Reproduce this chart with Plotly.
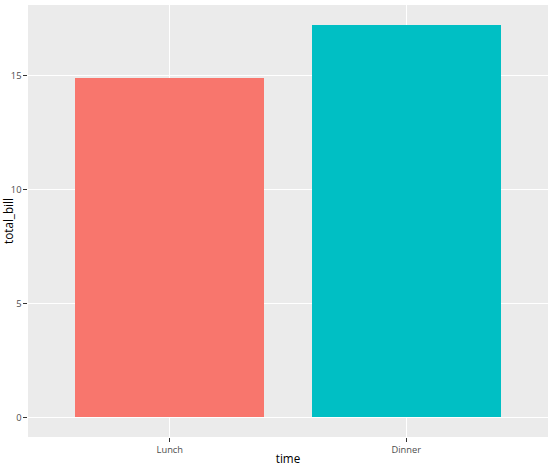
import plotly.graph_objects as go

times = ["Lunch", "Dinner"]
total_bill = [14.89, 17.23]
colors = ["#F8766D", "#00BFC4"]
y_ticks = [0, 5, 10, 15]

fig = go.Figure()
for t, v, c in zip(times, total_bill, colors):
    fig.add_trace(go.Bar(x=[t], y=[v], width=0.8, marker=dict(color=c, line=dict(width=0)),
                         name=t, showlegend=False))

ymax = max(total_bill)
pad = ymax * 0.05

fig.update_layout(
    width=553, height=471,
    margin=dict(l=27.5, r=5.3, t=5, b=34, pad=0),
    plot_bgcolor="#EBEBEB", paper_bgcolor="white",
    font=dict(family="Open Sans", color="#000000"),
    bargap=0,
    showlegend=False,
    xaxis=dict(
        type="category", categoryorder="array", categoryarray=times,
        range=[-0.6, 1.6],
        ticks="outside", ticklen=3.65, tickwidth=1.07, tickcolor="#333333",
        tickfont=dict(size=9.3, color="#4D4D4D"),
        showgrid=True, gridcolor="white", gridwidth=1.07,
        zeroline=False, showline=False,
        title=dict(text="time", font=dict(size=11.7, color="#000000"), standoff=0),
        automargin=False,
    ),
    yaxis=dict(
        range=[-pad, ymax + pad],
        tickvals=y_ticks, ticktext=[str(v) for v in y_ticks],
        ticks="outside", ticklen=3.65, tickwidth=1.07, tickcolor="#333333",
        tickfont=dict(size=9.3, color="#4D4D4D"),
        showgrid=True, gridcolor="white", gridwidth=1.07,
        zeroline=False, showline=False,
        title=dict(text="total_bill", font=dict(size=11.7, color="#000000"), standoff=4),
        automargin=False,
    ),
)

fig.write_html("out.html", config={"displayModeBar": False},
               post_script="document.body.style.margin='0';")
